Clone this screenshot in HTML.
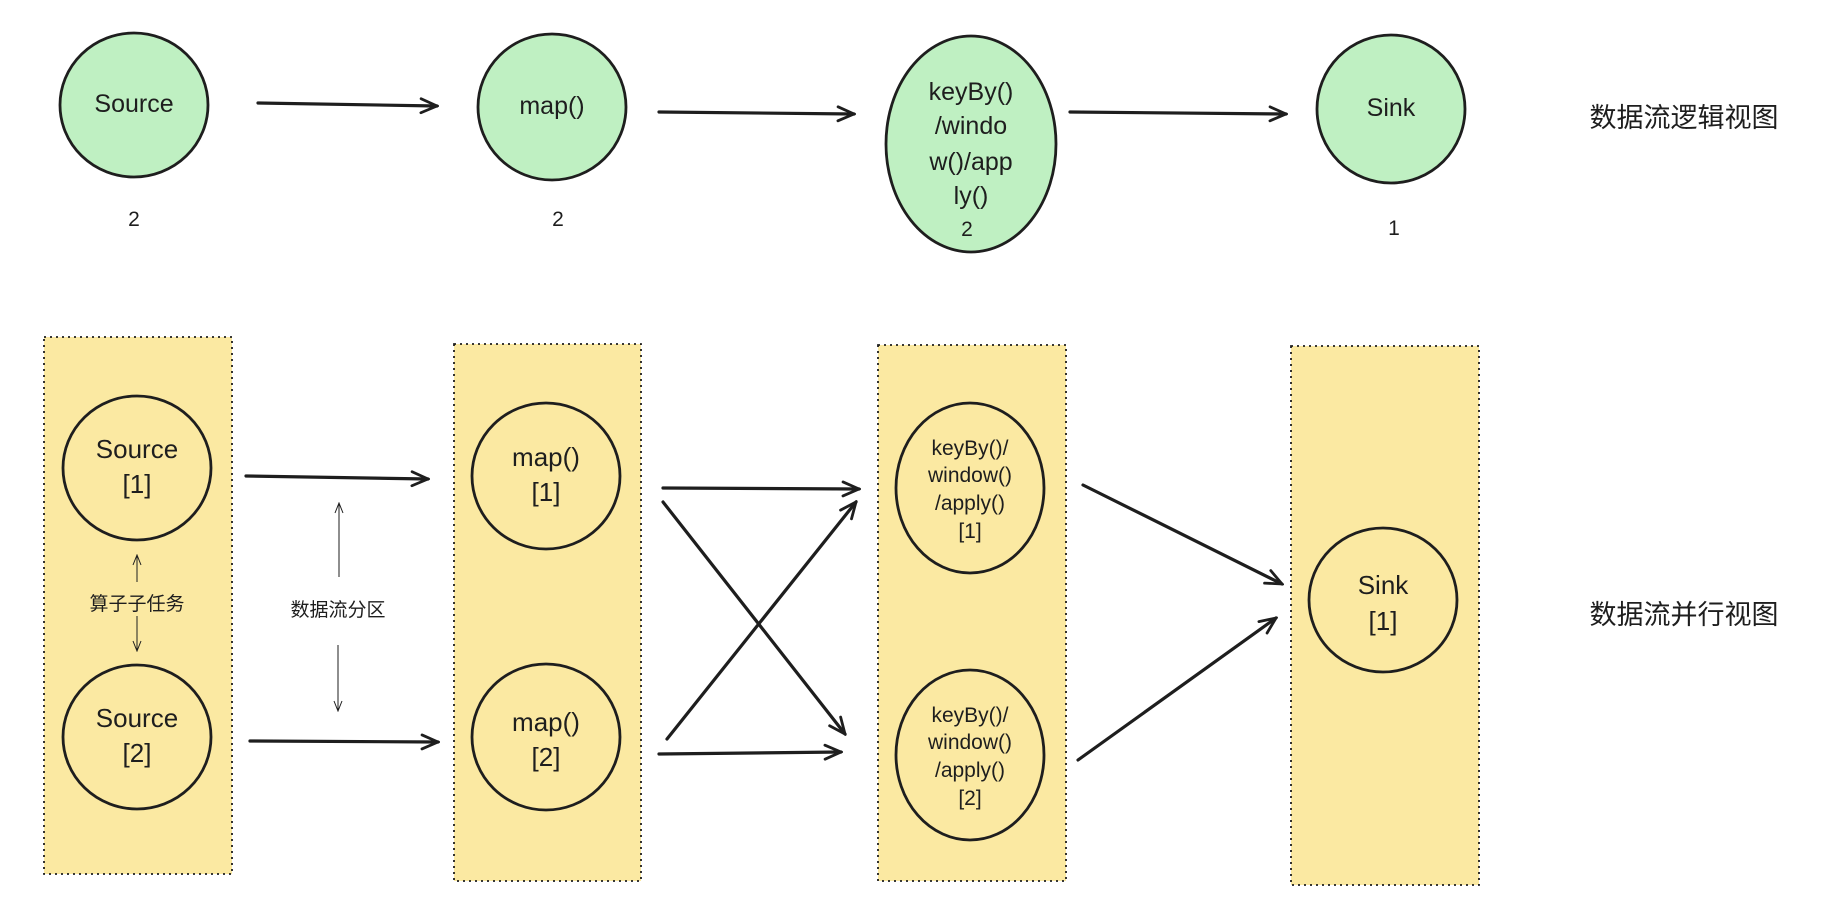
<!DOCTYPE html>
<html><head><meta charset="utf-8"><style>
html,body{margin:0;padding:0;background:#fff;}
svg{display:block;}
text{font-family:"Liberation Sans","Noto Sans CJK SC",sans-serif;fill:#1e1e1e;text-anchor:middle;}
</style></head><body>
<svg width="1822" height="922" viewBox="0 0 1822 922" xmlns="http://www.w3.org/2000/svg">
<defs>
<marker id="a" viewBox="0 0 20 20" refX="18" refY="10" markerWidth="20" markerHeight="20" markerUnits="userSpaceOnUse" orient="auto">
<path d="M2,3 L18,10 L2,17" fill="none" stroke="#1e1e1e" stroke-width="2.8" stroke-linecap="round"/>
</marker>
<marker id="s" viewBox="0 0 12 12" refX="11" refY="6" markerWidth="12" markerHeight="12" markerUnits="userSpaceOnUse" orient="auto">
<path d="M1,2 L11,6 L1,10" fill="none" stroke="#1e1e1e" stroke-width="1"/>
</marker>
</defs>
<g stroke="#1e1e1e" stroke-width="2.8" fill="#bff0c2">
<ellipse cx="134" cy="105" rx="74" ry="72"/>
<ellipse cx="552" cy="107" rx="74" ry="73"/>
<ellipse cx="971" cy="144" rx="85" ry="108"/>
<ellipse cx="1391" cy="109" rx="74" ry="74"/>
</g>
<g font-size="25" style="font-weight:500">
<text x="134" y="112">Source</text>
<text x="552" y="114">map()</text>
<text x="971" y="100">keyBy()</text>
<text x="971" y="134">/windo</text>
<text x="971" y="170">w()/app</text>
<text x="971" y="204">ly()</text>
<text x="1391" y="116">Sink</text>
</g>
<g font-size="21">
<text x="134" y="226">2</text>
<text x="558" y="226">2</text>
<text x="967" y="236">2</text>
<text x="1394" y="235">1</text>
</g>
<g stroke="#1e1e1e" stroke-width="3.2" fill="none" marker-end="url(#a)" stroke-linecap="round">
<line x1="258" y1="103" x2="437" y2="106"/>
<line x1="659" y1="112" x2="854" y2="114"/>
<line x1="1070" y1="112" x2="1286" y2="114"/>
</g>
<text x="1684" y="127" font-size="27">数据流逻辑视图</text>
<text x="1684" y="624" font-size="27">数据流并行视图</text>
<g fill="#fbe9a2" stroke="#1e1e1e" stroke-width="1.8" stroke-dasharray="2 4">
<rect x="44" y="337" width="188" height="537"/>
<rect x="454" y="344" width="187" height="537"/>
<rect x="878" y="345" width="188" height="536"/>
<rect x="1291" y="346" width="188" height="539"/>
</g>
<g stroke="#1e1e1e" stroke-width="2.8" fill="none">
<ellipse cx="137" cy="468" rx="74" ry="72"/>
<ellipse cx="137" cy="737" rx="74" ry="72"/>
<ellipse cx="546" cy="476" rx="74" ry="73"/>
<ellipse cx="546" cy="737" rx="74" ry="73"/>
<ellipse cx="970" cy="488" rx="74" ry="85"/>
<ellipse cx="970" cy="755" rx="74" ry="85"/>
<ellipse cx="1383" cy="600" rx="74" ry="72"/>
</g>
<g font-size="26">
<text x="137" y="458">Source</text>
<text x="137" y="493">[1]</text>
<text x="137" y="727">Source</text>
<text x="137" y="762">[2]</text>
<text x="546" y="466">map()</text>
<text x="546" y="501">[1]</text>
<text x="546" y="731">map()</text>
<text x="546" y="766">[2]</text>
<text x="1383" y="594">Sink</text>
<text x="1383" y="630">[1]</text>
</g>
<g font-size="21">
<text x="970" y="455">keyBy()/</text>
<text x="970" y="482">window()</text>
<text x="970" y="510">/apply()</text>
<text x="970" y="538">[1]</text>
<text x="970" y="722">keyBy()/</text>
<text x="970" y="749">window()</text>
<text x="970" y="777">/apply()</text>
<text x="970" y="805">[2]</text>
</g>
<g stroke="#1e1e1e" stroke-width="3.2" fill="none" marker-end="url(#a)" stroke-linecap="round">
<line x1="246" y1="476" x2="428" y2="479"/>
<line x1="250" y1="741" x2="438" y2="742"/>
<line x1="663" y1="488" x2="859" y2="489"/>
<line x1="659" y1="754" x2="841" y2="752"/>
<line x1="663" y1="502" x2="845" y2="734"/>
<line x1="667" y1="739" x2="856" y2="502"/>
<line x1="1083" y1="485" x2="1282" y2="584"/>
<line x1="1078" y1="760" x2="1276" y2="618"/>
</g>
<g stroke="#1e1e1e" stroke-width="1" fill="none" marker-end="url(#s)">
<line x1="137" y1="582" x2="137" y2="555"/>
<line x1="137" y1="616" x2="137" y2="651"/>
<line x1="339" y1="577" x2="339" y2="503"/>
<line x1="338" y1="645" x2="338" y2="711"/>
</g>
<text x="137" y="610" font-size="19">算子子任务</text>
<text x="338" y="616" font-size="19">数据流分区</text>
</svg>
</body></html>
